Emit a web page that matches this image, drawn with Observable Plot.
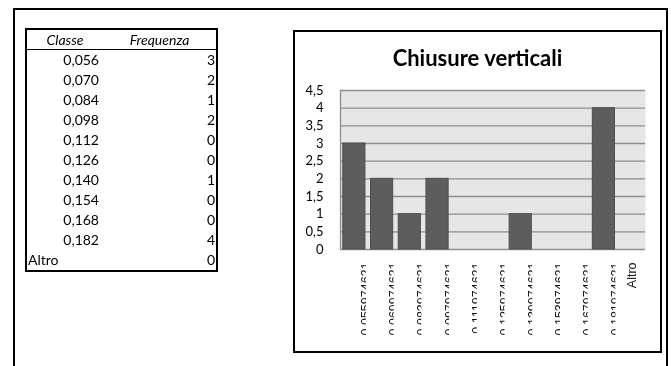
<!DOCTYPE html>
<html>
<head>
<meta charset="utf-8">
<script src="https://cdn.jsdelivr.net/npm/d3@7"></script>
<script src="https://cdn.jsdelivr.net/npm/@observablehq/plot@0.6"></script>
<style>
  html, body { margin: 0; padding: 0; background: #fff; overflow: hidden; }
  html, body { width: 100%; height: 100%; }
  body { position: relative; font-family: Lato, "Open Sans", sans-serif; }
  #sheet { position: fixed; left: 13px; right: 3px; top: 8px; bottom: -4px; box-sizing: border-box; border: 2px solid #000; }
  #freq-table { position: absolute; left: 25px; top: 28px; border-collapse: collapse; border: 2px solid #000; font-size: 14px; color: #000; }
  #freq-table th { font-weight: normal; font-style: italic; text-align: center; height: 19px; padding: 0; border-bottom: 1px solid #000; }
  #freq-table td { height: 20px; padding: 0; line-height: 20px; }
  #freq-table td.num { text-align: right; padding-right: 4px; }
  #freq-table td.txt { text-align: left; padding-left: 1px; }
  #freq-table td.cnt { text-align: right; padding-right: 1px; }
  #chart-box { position: absolute; left: 293px; top: 30px; width: 369px; height: 323px; box-sizing: border-box; border: 2px solid #000; }
  #chart-title { position: absolute; left: 0; top: 15px; width: 100%; text-align: center; font: 700 22px Lato, sans-serif; line-height: 22px; color: #000; }
  #chart-box svg { position: absolute; left: 0; top: 0; }
</style>
</head>
<body>
<div id="sheet"></div>
<table id="freq-table"></table>
<div id="chart-box"><div id="chart-title">Chiusure verticali</div></div>
<script>
// Frequency table: class upper bounds and counts
const classLabels = ["0,056", "0,070", "0,084", "0,098", "0,112", "0,126", "0,140", "0,154", "0,168", "0,182", "Altro"];
const frequencies = [3, 2, 1, 2, 0, 0, 1, 0, 0, 4, 0];
// Category labels used on the chart's x axis (full bin edges)
const binLabels = ["0,055974621", "0,069974621", "0,083974621", "0,097974621", "0,111974621",
                   "0,125974621", "0,139974621", "0,153974621", "0,167974621", "0,181974621", "Altro"];
const yTicks = [0, 0.5, 1, 1.5, 2, 2.5, 3, 3.5, 4, 4.5];
const tableHeaders = ["Classe", "Frequenza"];

// Spreadsheet table
const table = d3.select("#freq-table");
const head = table.append("tr");
head.append("th").style("width", "76px").text(tableHeaders[0]);
head.append("th").style("width", "113px").text(tableHeaders[1]);
classLabels.forEach((c, i) => {
  const tr = table.append("tr");
  tr.append("td").attr("class", c === "Altro" ? "txt" : "num").text(c);
  tr.append("td").attr("class", "cnt").text(frequencies[i]);
});

// Histogram
const bins = binLabels.map((label, i) => ({label, count: frequencies[i]}));
const numericEdges = binLabels.filter(d => d !== "Altro");
const otherEdges = binLabels.filter(d => d === "Altro");
const comma = d => String(d).replace(".", ",");
const labelFont = "Liberation Sans, Arial, sans-serif";

const chart = Plot.plot({
  width: 365,
  height: 319,
  marginLeft: 45,
  marginRight: 15,
  marginTop: 58,
  marginBottom: 102,
  x: {domain: binLabels, paddingInner: 0.2, paddingOuter: 0.1, round: false, axis: null},
  y: {domain: [0, 4.5], axis: null},
  style: {fontFamily: "Lato, sans-serif", fontSize: "13px", background: "transparent", color: "#000", overflow: "visible"},
  marks: [
    Plot.frame({fill: "#e6e6e6"}),
    Plot.gridY(yTicks, {stroke: "#8e8e8e", strokeOpacity: 1, strokeWidth: 1.3}),
    Plot.frame({anchor: "left", stroke: "#8e8e8e", strokeWidth: 1.3}),
    Plot.axisY(yTicks, {tickSize: 0, tickPadding: 17, tickFormat: comma, fontSize: 13, fill: "#000", label: null}),
    Plot.barY(bins, {x: "label", y: "count", filter: d => d.count > 0, fill: "#5d5d5d", stroke: "#4f4f4f", strokeWidth: 1}),
    Plot.text(numericEdges, {x: d => d, frameAnchor: "bottom", rotate: -90, textAnchor: "end", lineAnchor: "middle",
      dx: 12, dy: 13, fontFamily: labelFont, fontSize: 12.5, fill: "#111"}),
    Plot.text(otherEdges, {x: d => d, frameAnchor: "bottom", rotate: -90, textAnchor: "end", lineAnchor: "middle",
      dx: 0, dy: 13, fontFamily: labelFont, fontSize: 12.5, fill: "#111"})
  ]
});
document.getElementById("chart-box").appendChild(chart);

// The long bin-edge labels are cut off by their cells: only a narrow strip of each stays visible.
const svg = d3.select(chart);
const xs = chart.scale("x");
const bw = xs.bandwidth || 0;
const clip = svg.append("defs").append("clipPath").attr("id", "edge-label-clip")
  .attr("clipPathUnits", "userSpaceOnUse");
numericEdges.forEach(d => {
  const cx = xs.apply(d) + bw / 2 + 12;
  clip.append("rect").attr("x", cx - 10).attr("y", 0).attr("width", 10).attr("height", 319);
});
const edgeText = svg.selectAll("text").filter(function () { return numericEdges.includes(this.textContent); });
if (!edgeText.empty()) {
  const group = edgeText.node().parentNode;
  const wrap = document.createElementNS("http://www.w3.org/2000/svg", "g");
  wrap.setAttribute("clip-path", "url(#edge-label-clip)");
  group.parentNode.insertBefore(wrap, group);
  wrap.appendChild(group);
}
</script>
</body>
</html>
